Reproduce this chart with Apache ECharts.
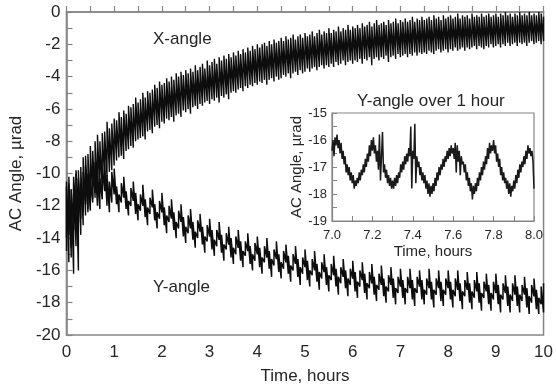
<!DOCTYPE html>
<html><head><meta charset="utf-8">
<script src="https://cdn.jsdelivr.net/npm/echarts@6/dist/echarts.min.js"></script>
<style>html,body{margin:0;padding:0;background:#fff}#c{width:556px;height:390px}</style>
</head><body><div id="c"></div>
<script>
// ---- data ----
const mainStart = 0, mainStep = 0.05;          // hours, sample spacing of envelope readings
// X-angle: upper / lower edge of the noisy band
const xHi = [-10.5,-10.2,-11.0,-10.6,-10.0,-9.8,-9.6,-9.0,-8.9,-8.8,
-8.3,-8.6,-8.0,-7.6,-8.0,-7.5,-7.4,-6.8,-7.2,-6.9,
-6.6,-6.7,-6.2,-6.5,-6.1,-6.3,-5.8,-5.9,-5.7,-5.3,
-5.6,-5.4,-5.0,-5.3,-4.9,-5.0,-4.8,-4.5,-4.7,-4.3,
-4.5,-4.4,-4.1,-4.3,-4.0,-4.2,-3.8,-4.0,-3.7,-3.9,
-3.6,-3.8,-3.5,-3.7,-3.3,-3.6,-3.4,-3.2,-3.5,-3.0,
-3.3,-3.1,-2.9,-3.2,-2.8,-3.0,-2.7,-2.9,-2.6,-2.8,
-2.5,-2.7,-2.4,-2.6,-2.3,-2.5,-2.2,-2.4,-2.1,-2.3,
-2.0,-2.2,-2.0,-1.9,-2.1,-1.8,-2.0,-1.7,-1.9,-1.8,
-1.6,-1.8,-1.5,-1.7,-1.6,-1.4,-1.7,-1.5,-1.4,-1.6,
-1.3,-1.5,-1.4,-1.2,-1.5,-1.3,-1.1,-1.4,-1.2,-1.3,
-1.0,-1.3,-1.1,-1.2,-0.9,-1.2,-1.0,-1.1,-0.8,-1.1,
-0.9,-1.0,-0.8,-1.0,-0.7,-0.9,-0.8,-0.6,-0.9,-0.7,
-0.5,-0.8,-0.7,-0.6,-0.8,-0.5,-0.7,-0.6,-0.4,-0.7,
-0.5,-0.6,-0.4,-0.6,-0.5,-0.3,-0.6,-0.4,-0.5,-0.3,
-0.5,-0.4,-0.3,-0.5,-0.2,-0.4,-0.3,-0.5,-0.2,-0.4,
-0.3,-0.2,-0.4,-0.3,-0.1,-0.4,-0.2,-0.3,-0.2,-0.4,
-0.1,-0.3,-0.2,-0.3,-0.1,-0.3,-0.2,-0.1,-0.3,-0.2,
-0.1,-0.3,-0.1,-0.2,0.0,-0.2,-0.1,-0.3,-0.1,-0.2,
0.0,-0.2,-0.1,-0.2,0.0,-0.2,-0.1,-0.2,0.0,-0.1,
-0.3];
const xLo = [-14.8,-15.5,-15.2,-16.2,-14.5,-16.0,-13.8,-13.2,-12.6,-12.4,
-12.0,-11.6,-11.5,-11.2,-11.0,-10.9,-10.3,-10.2,-9.9,-9.8,
-9.5,-9.2,-9.0,-8.9,-9.1,-8.6,-8.5,-8.3,-8.4,-8.0,
-7.9,-7.8,-7.7,-7.9,-7.4,-7.3,-7.5,-7.1,-7.0,-7.2,
-6.8,-6.9,-6.6,-6.7,-6.5,-6.8,-6.4,-6.3,-6.5,-6.1,
-6.2,-6.0,-6.3,-5.9,-5.8,-6.0,-5.7,-5.8,-5.6,-5.5,
-5.7,-5.4,-5.5,-5.3,-5.6,-5.2,-5.3,-5.1,-5.4,-5.0,
-4.9,-5.0,-4.8,-4.7,-4.9,-4.6,-4.7,-4.5,-4.6,-4.4,
-4.5,-4.3,-4.4,-4.2,-4.5,-4.2,-4.1,-4.3,-4.0,-4.2,
-4.1,-3.9,-4.0,-3.8,-4.1,-3.8,-3.7,-3.9,-3.6,-3.8,
-3.7,-3.5,-3.7,-3.5,-3.4,-3.6,-3.4,-3.3,-3.5,-3.3,
-3.4,-3.2,-3.4,-3.1,-3.3,-3.2,-3.0,-3.3,-3.1,-3.0,
-3.2,-3.0,-3.1,-2.9,-3.2,-2.9,-3.0,-2.8,-3.3,-2.9,
-2.8,-3.0,-2.8,-2.9,-2.7,-3.1,-2.8,-2.7,-2.9,-2.6,
-2.8,-2.7,-2.6,-2.8,-2.6,-2.7,-2.5,-2.7,-2.5,-2.6,
-2.5,-2.6,-2.4,-2.5,-2.6,-2.4,-2.3,-2.5,-2.4,-2.3,
-2.5,-2.3,-2.4,-2.2,-2.4,-2.3,-2.2,-2.4,-2.2,-2.3,
-2.2,-2.1,-2.3,-2.1,-2.2,-2.3,-2.1,-2.2,-2.0,-2.2,
-2.1,-2.0,-2.2,-2.0,-2.1,-1.9,-2.1,-2.0,-1.9,-2.1,
-1.9,-2.0,-1.9,-2.1,-1.9,-1.8,-2.0,-1.9,-1.8,-2.0,
-1.8];
// Y-angle: upper / lower edge of the band
const yHi = [-10.8,-10.6,-11.0,-10.2,-9.8,-10.3,-10.6,-9.9,-9.5,-10.0,
-10.4,-9.7,-9.3,-9.9,-10.3,-9.6,-9.4,-10.1,-10.5,-9.9,
-9.7,-10.8,-11.3,-10.6,-10.2,-11.1,-11.7,-10.9,-10.5,-11.2,
-11.9,-11.3,-10.7,-11.6,-12.1,-11.5,-11.0,-11.9,-12.4,-11.7,
-11.2,-12.1,-12.6,-12.0,-11.6,-12.4,-13.0,-12.3,-11.9,-12.7,
-13.3,-12.6,-12.2,-13.0,-13.6,-12.9,-12.5,-13.3,-13.9,-13.2,
-12.8,-13.5,-14.1,-13.5,-13.0,-13.8,-14.4,-13.7,-13.3,-14.0,
-14.6,-13.9,-13.5,-14.2,-14.8,-14.2,-13.7,-14.5,-15.0,-14.3,
-13.9,-14.6,-15.2,-14.5,-14.0,-14.8,-15.3,-14.7,-14.2,-15.0,
-15.5,-14.8,-14.4,-15.1,-15.7,-15.0,-14.5,-15.3,-15.8,-15.2,
-14.7,-15.4,-16.0,-15.3,-14.8,-15.6,-16.1,-15.5,-15.0,-15.8,
-16.3,-15.6,-15.1,-15.9,-16.4,-15.8,-15.3,-16.0,-16.5,-15.9,
-15.4,-16.1,-16.7,-16.0,-15.5,-16.2,-16.8,-16.1,-15.6,-16.4,
-16.9,-16.2,-15.7,-16.5,-17.0,-16.3,-15.8,-16.5,-17.1,-16.4,
-15.9,-16.6,-17.1,-16.4,-15.9,-16.6,-17.1,-16.4,-16.0,-16.6,
-17.2,-16.5,-15.9,-16.7,-17.2,-16.5,-16.0,-16.7,-17.2,-16.5,
-16.0,-16.7,-17.2,-16.5,-16.0,-16.8,-17.3,-16.6,-16.1,-16.8,
-17.3,-16.6,-16.1,-16.8,-17.4,-16.7,-16.2,-16.9,-17.4,-16.7,
-16.2,-16.9,-17.5,-16.8,-16.3,-17.0,-17.5,-16.8,-16.3,-17.0,
-17.5,-16.9,-16.4,-17.1,-17.6,-16.9,-16.5,-17.2,-17.7,-17.0,
-16.8];
const yLo = [-14.0,-13.8,-14.6,-13.5,-12.9,-13.0,-12.8,-12.4,-11.9,-12.2,
-12.3,-11.8,-11.2,-12.0,-12.2,-11.6,-11.1,-12.0,-12.4,-11.8,
-11.3,-11.9,-12.4,-11.8,-11.5,-12.2,-12.6,-12.0,-11.7,-12.5,
-12.9,-12.3,-12.0,-12.7,-13.2,-12.5,-12.1,-12.9,-13.4,-12.8,
-12.4,-13.2,-13.7,-13.0,-12.8,-13.5,-14.0,-13.4,-13.0,-13.9,
-14.3,-13.7,-13.4,-14.1,-14.6,-14.0,-13.6,-14.4,-14.9,-14.2,
-13.9,-14.7,-15.1,-14.5,-14.1,-14.9,-15.4,-14.7,-14.4,-15.2,
-15.6,-15.0,-14.6,-15.4,-15.8,-15.1,-14.8,-15.6,-16.0,-15.4,
-15.0,-15.8,-16.2,-15.5,-15.2,-15.9,-16.4,-15.7,-15.3,-16.1,
-16.5,-15.9,-15.5,-16.2,-16.7,-16.0,-15.6,-16.4,-16.9,-16.2,
-15.8,-16.6,-17.0,-16.3,-16.0,-16.7,-17.2,-16.5,-16.1,-16.9,
-17.3,-16.6,-16.3,-17.0,-17.5,-16.8,-16.4,-17.1,-17.6,-16.9,
-16.5,-17.3,-17.7,-17.0,-16.6,-17.4,-17.8,-17.1,-16.8,-17.5,
-17.9,-17.2,-16.9,-17.6,-18.0,-17.3,-16.9,-17.7,-18.1,-17.4,
-17.0,-17.7,-18.1,-17.4,-17.1,-17.8,-18.2,-17.4,-17.0,-17.8,
-18.1,-17.5,-17.1,-17.8,-18.3,-17.5,-17.1,-17.9,-18.2,-17.5,
-17.1,-17.8,-18.3,-17.6,-17.2,-17.9,-18.4,-17.6,-17.2,-18.0,
-18.4,-17.7,-17.3,-18.0,-18.5,-17.7,-17.3,-18.1,-18.5,-17.8,
-17.4,-18.1,-18.6,-17.8,-17.4,-18.2,-18.6,-17.9,-17.5,-18.2,
-18.6,-17.9,-17.5,-18.3,-18.7,-18.0,-17.6,-18.4,-18.7,-18.1,
-18.6];
// Inset: Y-angle between 7 and 8 hours
const insetStart = 7.0, insetStep = 0.005;
const insetY = [-16.4,-16.0,-16.6,-15.9,-16.2,-15.8,-16.3,-16.0,-16.5,-16.1,
-16.7,-16.4,-16.9,-16.6,-17.2,-16.9,-17.3,-17.0,-17.5,-17.2,
-17.6,-17.3,-17.8,-17.5,-17.7,-17.4,-17.6,-17.2,-17.5,-17.1,
-17.3,-16.9,-17.2,-16.7,-17.0,-16.5,-16.8,-16.2,-16.6,-16.0,
-16.4,-15.9,-16.5,-16.2,-16.8,-16.4,-17.1,-15.8,-17.5,-16.6,
-15.7,-17.2,-16.9,-17.4,-17.1,-17.6,-17.3,-17.7,-17.4,-17.8,
-17.5,-17.8,-17.4,-17.7,-17.3,-17.6,-17.2,-17.4,-16.9,-17.2,
-16.8,-17.1,-16.6,-16.9,-16.5,-16.8,-16.3,-16.6,-15.5,-17.8,
-16.4,-16.7,-15.4,-17.6,-16.6,-17.0,-16.8,-17.3,-17.0,-17.5,
-17.2,-17.6,-17.3,-17.8,-17.5,-18.0,-17.6,-18.1,-17.7,-18.0,
-17.6,-17.9,-17.4,-17.7,-17.2,-17.5,-17.0,-17.3,-16.9,-17.1,
-16.7,-17.0,-16.6,-16.8,-16.4,-16.7,-16.3,-16.6,-16.2,-16.5,
-16.3,-16.7,-16.1,-17.2,-16.2,-16.8,-16.4,-17.3,-16.6,-16.9,
-16.8,-17.2,-16.9,-17.5,-17.2,-17.7,-17.4,-17.9,-17.6,-18.2,
-17.7,-18.0,-17.6,-17.9,-17.4,-17.7,-17.2,-17.5,-17.0,-17.3,
-16.8,-17.1,-16.6,-16.9,-16.3,-16.7,-16.1,-16.5,-16.2,-16.4,
-16.0,-16.5,-16.2,-16.8,-16.5,-17.0,-16.7,-17.3,-17.0,-17.5,
-17.2,-17.6,-17.4,-17.8,-17.5,-18.0,-17.6,-18.1,-17.7,-17.9,
-17.5,-17.8,-17.3,-17.6,-17.1,-17.4,-16.9,-17.2,-16.8,-17.0,
-16.6,-16.9,-16.4,-16.7,-16.2,-16.5,-16.3,-16.6,-16.4,-16.8,
-17.8];
const labels = { x: 'X-angle', y: 'Y-angle', inset: 'Y-angle over 1 hour' };
const axisNames = { time: 'Time, hours', angle: 'AC Angle, µrad' };

// ---- build series points from the readings (bottom->top stroke per sample) ----
function envelope(lo, hi) {
  const out = [];
  for (let i = 0; i < lo.length; i++) {
    const t = +(mainStart + i * mainStep).toFixed(4);
    out.push([t, lo[i]], [t, hi[i]]);
  }
  return out;
}
const insetPts = insetY.map((v, j) => [+(insetStart + j * insetStep).toFixed(4), v]);

const gray = '#858585', txt = '#262626', ff = '"Liberation Sans", Arial, sans-serif';
function axisStyle(o) {
  return Object.assign({
    type: 'value',
    axisLine: { show: true, lineStyle: { color: gray, width: 1.5 } },
    axisTick: { show: true, inside: true, length: 6, lineStyle: { color: gray, width: 1.2 } },
    minorTick: { show: true, splitNumber: 2, length: 6, lineStyle: { color: gray, width: 1.2 } },
    splitLine: { show: false },
    nameLocation: 'middle'
  }, o);
}
const chart = echarts.init(document.getElementById('c'), null, { renderer: 'canvas' });
chart.setOption({
  animation: false,
  backgroundColor: '#fff',
  textStyle: { fontFamily: ff },
  grid: [
    { left: 64, right: 9, top: 12, bottom: 48, show: true, borderColor: gray, borderWidth: 1.5 },
    { left: 332, top: 113, width: 202, height: 108, show: true, borderColor: gray, borderWidth: 1.2 }
  ],
  xAxis: [
    axisStyle({ gridIndex: 0, min: 0, max: 10, interval: 1, name: axisNames.time, nameGap: 33,
      nameTextStyle: { fontSize: 17, color: txt, fontFamily: ff },
      axisLabel: { fontSize: 17, color: txt, margin: 9, fontFamily: ff } }),
    axisStyle({ gridIndex: 1, min: 7, max: 8, interval: 0.2, name: axisNames.time, nameGap: 23,
      nameTextStyle: { fontSize: 15, color: txt, fontFamily: ff },
      axisTick: { show: true, inside: true, length: 5, lineStyle: { color: gray, width: 1 } },
      minorTick: { show: true, splitNumber: 2, length: 5, lineStyle: { color: gray, width: 1 } },
      axisLine: { show: true, lineStyle: { color: gray, width: 1.2 } },
      axisLabel: { fontSize: 13, color: txt, margin: 8, fontFamily: ff, formatter: v => v.toFixed(1) } })
  ],
  yAxis: [
    axisStyle({ gridIndex: 0, min: -20, max: 0, interval: 2, name: axisNames.angle, nameGap: 37,
      nameTextStyle: { fontSize: 17, color: txt, fontFamily: ff },
      axisLabel: { fontSize: 17, color: txt, margin: 6, fontFamily: ff } }),
    axisStyle({ gridIndex: 1, min: -19, max: -15, interval: 1, name: axisNames.angle, nameGap: 27,
      nameTextStyle: { fontSize: 15, color: txt, fontFamily: ff },
      axisTick: { show: true, inside: true, length: 5, lineStyle: { color: gray, width: 1 } },
      minorTick: { show: true, splitNumber: 2, length: 5, lineStyle: { color: gray, width: 1 } },
      axisLine: { show: true, lineStyle: { color: gray, width: 1.2 } },
      axisLabel: { fontSize: 13, color: txt, margin: 5, fontFamily: ff } })
  ],
  series: [
    { name: labels.x, type: 'line', xAxisIndex: 0, yAxisIndex: 0, data: envelope(xLo, xHi),
      showSymbol: false, symbol: 'none', lineStyle: { color: '#0d0d0d', width: 1.4 } },
    { name: labels.y, type: 'line', xAxisIndex: 0, yAxisIndex: 0, data: envelope(yLo, yHi),
      showSymbol: false, symbol: 'none', lineStyle: { color: '#0d0d0d', width: 1.5 } },
    { name: labels.inset, type: 'line', xAxisIndex: 1, yAxisIndex: 1, data: insetPts,
      showSymbol: false, symbol: 'none', lineStyle: { color: '#1a1a1a', width: 1.5 } }
  ],
  graphic: [
    { type: 'text', left: 153, top: 31, style: { text: labels.x, fontSize: 17, fill: txt, fontFamily: ff } },
    { type: 'text', left: 153, top: 279, style: { text: labels.y, fontSize: 17, fill: txt, fontFamily: ff } },
    { type: 'text', left: 357, top: 93, style: { text: labels.inset, fontSize: 17, fill: txt, fontFamily: ff } }
  ]
});
</script></body></html>
